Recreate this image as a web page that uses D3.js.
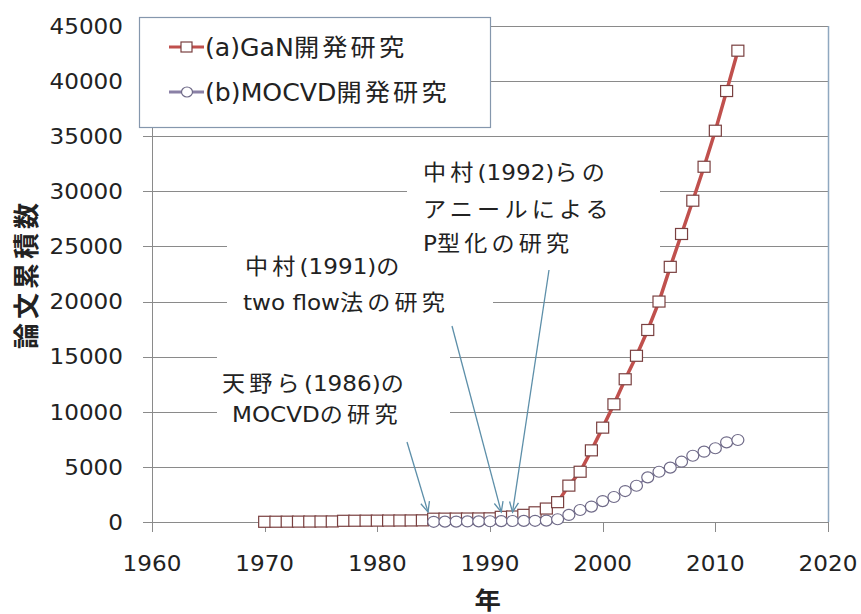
<!DOCTYPE html>
<html>
<head>
<meta charset="utf-8">
<script src="https://cdn.jsdelivr.net/npm/d3@7"></script>
<style>
  body { margin: 0; background: #fff; }
</style>
</head>
<body>
<div id="container"></div>
<script>
// cumulative paper counts
let ganYears = [1970, 1971, 1972, 1973, 1974, 1975, 1976, 1977, 1978, 1979, 1980,
  1981, 1982, 1983, 1984, 1985, 1986, 1987, 1988, 1989, 1990, 1991, 1992, 1993,
  1994, 1995, 1996, 1997, 1998, 1999, 2000, 2001, 2002, 2003, 2004, 2005, 2006,
  2007, 2008, 2009, 2010, 2011, 2012];
let ganValues = [20, 25, 30, 35, 40, 45, 50, 110, 115, 120, 125,
  130, 135, 140, 150, 300, 305, 310, 315, 320, 330, 470, 500, 650,
  880, 1220, 1800, 3300, 4560, 6500, 8560, 10680, 12950, 15080, 17420, 20000, 23150,
  26130, 29150, 32230, 35500, 39100, 42760];

let mocvdYears = [1985, 1986, 1987, 1988, 1989, 1990, 1991, 1992, 1993, 1994, 1995,
  1996, 1997, 1998, 1999, 2000, 2001, 2002, 2003, 2004, 2005, 2006, 2007, 2008,
  2009, 2010, 2011, 2012];
let mocvdValues = [20, 30, 40, 50, 60, 70, 80, 90, 100, 110, 130,
  250, 640, 1090, 1400, 1900, 2270, 2810, 3290, 4050, 4560, 4930, 5470, 6010,
  6380, 6690, 7230, 7440];

let seriesNames = ["(a)GaN開発研究", "(b)MOCVD開発研究"];
let xTicks = [1960, 1970, 1980, 1990, 2000, 2010, 2020];
let yTicks = [0, 5000, 10000, 15000, 20000, 25000, 30000, 35000, 40000, 45000];
let xTitle = "年";
let yTitle = "論文累積数";

// the three call-outs and the year each arrow points at
let noteLines = [
  ["天野ら(1986)の", "MOCVDの研究"],
  ["中村(1991)の", "two flow法の研究"],
  ["中村(1992)らの", "アニールによる", "P型化の研究"]
];
let noteYears = [1984.5, 1991, 1992];
let noteLevel = 900;

let w = 861;
let h = 614;
let padLeft = 152, padRight = 828, padTop = 26, padBottom = 522;

let svg = d3.select("#container")
  .append("svg")
    .attr("width", w)
    .attr("height", h)
    .style("background-color", "white");

let xScale = d3.scaleLinear().domain([1960, 2020]).range([padLeft, padRight]);
let yScale = d3.scaleLinear().domain([0, 45000]).range([padBottom, padTop]);

let textCol = "#222";
let gridCol = "#8a8a8a";
let SX = 1.05; // the picture is a little stretched sideways

// text with cjk runs spaced out a little, like the original font
function putText(parent, x, y, str, opt) {
  opt = opt || {};
  let t = parent.append("text")
    .attr("transform", "translate(" + x + "," + y + ") scale(" + (opt.sx || SX) + ",1)" + (opt.rot ? " rotate(" + opt.rot + ")" : ""))
    .attr("text-anchor", opt.anchor || "start")
    .attr("dominant-baseline", "central")
    .attr("font-family", "'DejaVu Sans', 'Noto Sans CJK JP', sans-serif")
    .attr("font-size", opt.size || 22)
    .attr("font-weight", opt.weight || "normal")
    .attr("fill", textCol);
  let runs = str.match(/[\u3000-\u9fff\uff00-\uffef]+|[^\u3000-\u9fff\uff00-\uffef]+/g);
  runs.forEach(function(r) {
    let cjk = /[\u3000-\u9fff]/.test(r);
    t.append("tspan").text(r).attr("letter-spacing", cjk ? (opt.cjkSpace != null ? opt.cjkSpace : 4) : 0);
  });
  return t;
}

// grid + y ticks
let grid = svg.append("g");
grid.selectAll("line")
  .data(yTicks)
  .enter()
  .append("line")
    .attr("x1", padLeft - 9)
    .attr("x2", padRight)
    .attr("y1", function(d) { return Math.round(yScale(d)) + 0.5; })
    .attr("y2", function(d) { return Math.round(yScale(d)) + 0.5; })
    .attr("stroke", gridCol)
    .attr("stroke-width", 1);

// left axis line and x ticks
svg.append("line")
  .attr("x1", padLeft + 0.5).attr("x2", padLeft + 0.5)
  .attr("y1", padTop).attr("y2", padBottom + 10)
  .attr("stroke", gridCol);
svg.selectAll(".xtick")
  .data(xTicks)
  .enter()
  .append("line")
    .attr("class", "xtick")
    .attr("x1", function(d) { return Math.round(xScale(d)) + 0.5; })
    .attr("x2", function(d) { return Math.round(xScale(d)) + 0.5; })
    .attr("y1", padBottom)
    .attr("y2", padBottom + 10)
    .attr("stroke", gridCol);
// plot area right border
svg.append("line")
  .attr("x1", padRight + 0.5).attr("x2", padRight + 0.5)
  .attr("y1", padTop).attr("y2", padBottom)
  .attr("stroke", "#8fa8c0")
  .attr("stroke-width", 1.5);

// tick labels
yTicks.forEach(function(d) {
  putText(svg, 123, yScale(d), String(d), { anchor: "end" });
});
xTicks.forEach(function(d) {
  putText(svg, xScale(d), 563, String(d), { anchor: "middle" });
});

// axis titles
putText(svg, (padLeft + padRight) / 2, 600, xTitle, { anchor: "middle", size: 24, weight: "bold", sx: 1.1 });
putText(svg, 27, (padTop + padBottom) / 2, yTitle, { anchor: "middle", size: 26, weight: "bold", sx: 1, rot: -90, cjkSpace: 4 });

// call-out boxes (white, they hide the grid behind them)
let noteBoxes = [
  { x0: 217, x1: 450, y0: 352, y1: 432, tx: [222, 232], ty: [383, 414] },
  { x0: 227, x1: 493, y0: 240, y1: 322, tx: [245, 243], ty: [266, 302] },
  { x0: 407, x1: 660, y0: 148, y1: 262, tx: [423, 423, 423], ty: [172, 209, 243] }
];
let arrowTails = [[407, 442], [452, 326], [549, 270]];

let notes = svg.append("g");
noteBoxes.forEach(function(b, i) {
  notes.append("rect")
    .attr("x", b.x0).attr("y", b.y0)
    .attr("width", b.x1 - b.x0).attr("height", b.y1 - b.y0)
    .attr("fill", "white");
  noteLines[i].forEach(function(line, j) {
    putText(notes, b.tx[j], b.ty[j], line);
  });
});

// legend
let legend = svg.append("g");
legend.append("rect")
  .attr("x", 139.5).attr("y", 17.5)
  .attr("width", 351).attr("height", 110)
  .attr("fill", "white")
  .attr("stroke", "#8597ad")
  .attr("stroke-width", 1.2);

let ganLine = "#c0504d";
let mocLine = "#8a80a6";

legend.append("line").attr("x1", 169).attr("x2", 204).attr("y1", 47).attr("y2", 47)
  .attr("stroke", ganLine).attr("stroke-width", 3);
legend.append("rect").attr("x", 181).attr("y", 42).attr("width", 11).attr("height", 10)
  .attr("fill", "white").attr("stroke", "#7a4040").attr("stroke-width", 1.2);
putText(legend, 205, 47, seriesNames[0], { size: 24, cjkSpace: 3 });

legend.append("line").attr("x1", 169).attr("x2", 204).attr("y1", 92).attr("y2", 92)
  .attr("stroke", mocLine).attr("stroke-width", 3);
legend.append("ellipse").attr("cx", 187).attr("cy", 92).attr("rx", 5.5).attr("ry", 5)
  .attr("fill", "white").attr("stroke", "#6f6a88").attr("stroke-width", 1.2);
putText(legend, 205, 92, seriesNames[1], { size: 24, cjkSpace: 3 });

// series
let ganData = ganYears.map(function(d, i) { return { year: d, value: ganValues[i] }; });
let mocData = mocvdYears.map(function(d, i) { return { year: d, value: mocvdValues[i] }; });

let lineGen = d3.line()
  .x(function(d) { return xScale(d.year); })
  .y(function(d) { return yScale(d.value); });

svg.append("path")
  .datum(ganData)
  .attr("d", lineGen)
  .attr("fill", "none")
  .attr("stroke", ganLine)
  .attr("stroke-width", 3.5);

svg.append("g").selectAll("rect")
  .data(ganData)
  .enter()
  .append("rect")
    .attr("x", function(d) { return xScale(d.year) - 6; })
    .attr("y", function(d) { return yScale(d.value) - 5.5; })
    .attr("width", 12)
    .attr("height", 11)
    .attr("fill", "white")
    .attr("stroke", "#7a4040")
    .attr("stroke-width", 1.2);

svg.append("path")
  .datum(mocData)
  .attr("d", lineGen)
  .attr("fill", "none")
  .attr("stroke", mocLine)
  .attr("stroke-width", 2);

svg.append("g").selectAll("ellipse")
  .data(mocData)
  .enter()
  .append("ellipse")
    .attr("cx", function(d) { return xScale(d.year); })
    .attr("cy", function(d) { return yScale(d.value); })
    .attr("rx", 6)
    .attr("ry", 5.5)
    .attr("fill", "white")
    .attr("stroke", "#6f6a88")
    .attr("stroke-width", 1.2);

// arrows from the call-outs
let arrowCol = "#5d8fa9";
let arrows = svg.append("g");
noteYears.forEach(function(yr, i) {
  let x0 = arrowTails[i][0], y0 = arrowTails[i][1];
  let x1 = xScale(yr), y1 = yScale(noteLevel);
  let ang = Math.atan2(y1 - y0, x1 - x0);
  let len = 11, spread = 0.42;
  arrows.append("line")
    .attr("x1", x0).attr("y1", y0).attr("x2", x1).attr("y2", y1)
    .attr("stroke", arrowCol).attr("stroke-width", 1.3);
  arrows.append("path")
    .attr("d", "M" + (x1 - len * Math.cos(ang - spread)) + "," + (y1 - len * Math.sin(ang - spread)) +
      "L" + x1 + "," + y1 +
      "L" + (x1 - len * Math.cos(ang + spread)) + "," + (y1 - len * Math.sin(ang + spread)))
    .attr("fill", "none")
    .attr("stroke", arrowCol)
    .attr("stroke-width", 1.3);
});
</script>
</body>
</html>
